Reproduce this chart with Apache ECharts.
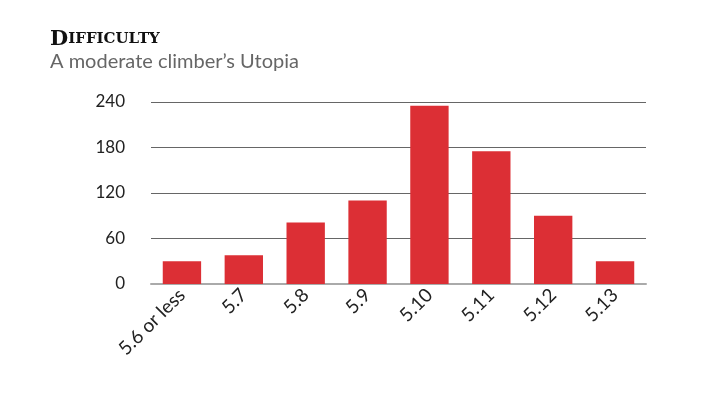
<!DOCTYPE html>
<html><head><meta charset="utf-8">
<script src="https://cdn.jsdelivr.net/npm/echarts@6/dist/echarts.min.js"></script>
<style>html,body{margin:0;padding:0;background:#fff}#c{width:710px;height:396px}</style>
</head><body><div id="c"></div>
<script>
const categories = ['5.6 or less','5.7','5.8','5.9','5.10','5.11','5.12','5.13'];
const routeCounts = [30, 38, 81, 110, 235, 175, 90, 30];
const yTicks = [0, 60, 120, 180, 240];

const chart = echarts.init(document.getElementById('c'), null, {renderer:'canvas'});
chart.setOption({
  animation:false,
  backgroundColor:'#fff',
  title:{
    left:50, top:29, padding:0,
    text:'{a|D}{b|IFFICULTY}',
    textStyle:{rich:{
      a:{fontFamily:'DejaVu Serif', fontWeight:'bold', fontSize:21, color:'#111'},
      b:{fontFamily:'DejaVu Serif', fontWeight:'bold', fontSize:15, color:'#111'}
    }},
    subtext:'A moderate climber’s Utopia',
    itemGap:2,
    subtextStyle:{fontFamily:'Lato', fontSize:20, color:'#666'}
  },
  grid:{left:151, right:64, top:102, bottom:112},
  xAxis:{
    type:'category', data:categories,
    axisLine:{lineStyle:{color:'#aaa', width:2}},
    axisTick:{show:false},
    axisLabel:{rotate:45, interval:0, fontFamily:'Lato', fontSize:19, color:'#222', margin:8}
  },
  yAxis:{
    type:'value', min:yTicks[0], max:yTicks[yTicks.length-1], interval:60,
    axisLine:{show:false}, axisTick:{show:false},
    axisLabel:{fontFamily:'Lato', fontSize:17, color:'#222', margin:26},
    splitLine:{lineStyle:{color:'#666', width:1}}
  },
  series:[{
    type:'bar', data:routeCounts, barWidth:'62%',
    itemStyle:{color:'#dc2f35'}
  }]
});
</script></body></html>
